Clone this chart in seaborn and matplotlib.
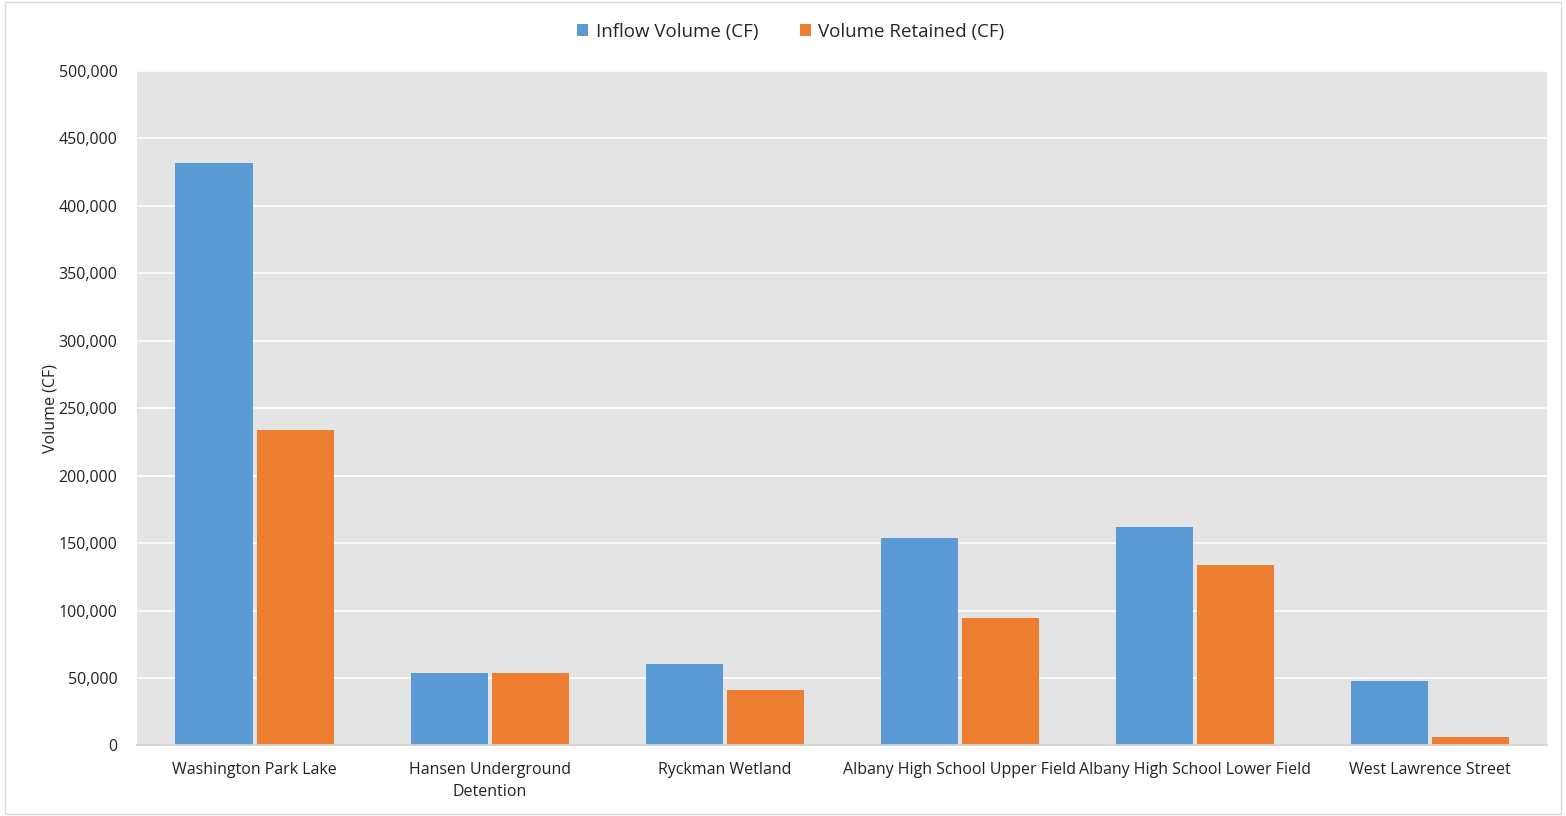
import matplotlib.pyplot as plt
import matplotlib.ticker as mticker
import pandas as pd
import seaborn as sns

# Data
sites = ['Washington Park Lake', 'Hansen Underground\nDetention', 'Ryckman Wetland',
         'Albany High School Upper Field', 'Albany High School Lower Field',
         'West Lawrence Street']
inflow = [432000, 53600, 60200, 153700, 161600, 48100]
retained = [234000, 53600, 41200, 94800, 133700, 6500]
series = ['Inflow Volume (CF)', 'Volume Retained (CF)']
colors = ['#5B9BD5', '#ED7D31']

df = pd.DataFrame({'site': sites * 2,
                   'value': inflow + retained,
                   'series': [series[0]] * len(sites) + [series[1]] * len(sites)})

sns.set_theme(style='white')
plt.rcParams['font.family'] = ['Open Sans', 'DejaVu Sans']

fig = plt.figure(figsize=(15.66, 8.16), dpi=100)
ax = fig.add_axes([0.0875, 0.0864, 0.9005, 0.8266])
ax.set_facecolor('#E4E4E4')

sns.barplot(data=df, x='site', y='value', hue='series', palette=colors,
            width=0.69, gap=0.05, saturation=1, linewidth=0, ax=ax,
            order=sites, hue_order=series)

ax.set_ylim(0, 500000)
ax.set_xlim(-0.5, len(sites) - 0.5)
ax.yaxis.set_major_locator(mticker.MultipleLocator(50000))
ax.yaxis.set_major_formatter(mticker.FuncFormatter(lambda v, p: f'{int(v):,}'))
ax.grid(axis='y', color='white', linewidth=1.2)
ax.set_axisbelow(True)
for s in ['top', 'right', 'left']:
    ax.spines[s].set_visible(False)
ax.spines['bottom'].set_color('#D0D0D0')
ax.tick_params(axis='both', length=0, labelsize=11.5, colors='#222222')
ax.tick_params(axis='x', pad=12)
ax.tick_params(axis='y', pad=14)
for lbl in ax.get_xticklabels():
    lbl.set_linespacing(1.45)
ax.set_xlabel('')
ax.set_ylabel('Volume (CF)', fontsize=11.5, color='#222222', labelpad=0)

sns.move_legend(ax, 'lower center', bbox_to_anchor=(0.505, 0.9296),
                bbox_transform=fig.transFigure, ncol=2, frameon=False,
                title=None, fontsize=13.5, handlelength=0.6, handleheight=0.6,
                handletextpad=0.4, columnspacing=2.2)

# thin light border around the whole figure
fig.patches.append(plt.Rectangle((0.003, 0.003), 0.994, 0.994, transform=fig.transFigure,
                                 fill=False, edgecolor='#D9D9D9', linewidth=1))

fig.savefig('out.png', dpi=100)
